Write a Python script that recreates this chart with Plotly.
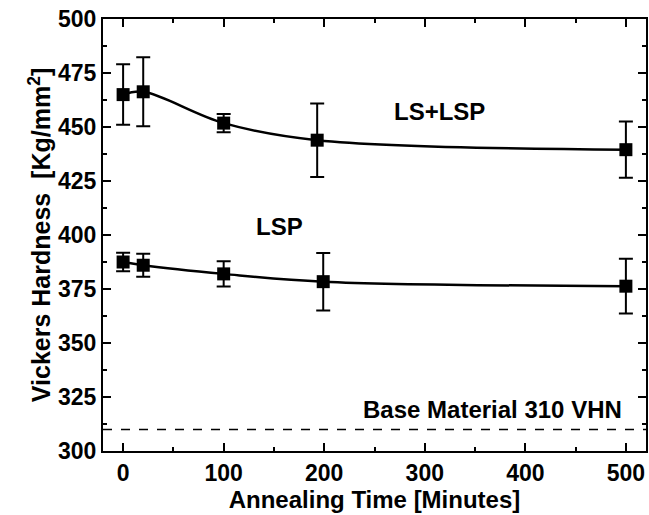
import plotly.graph_objects as go

# Data
time_ls_lsp = [0, 20, 100, 193, 500]
hv_ls_lsp = [465.0, 466.3, 451.8, 443.9, 439.5]
err_ls_lsp = [14.0, 16.0, 4.2, 17.0, 13.0]

time_lsp = [0, 20, 100, 199, 500]
hv_lsp = [387.5, 386.0, 382.0, 378.4, 376.3]
err_lsp = [4.3, 5.3, 5.8, 13.3, 12.7]

base_hv = 310

FONT = "Liberation Sans"

fig = go.Figure()
for xs, ys, es in [(time_ls_lsp, hv_ls_lsp, err_ls_lsp), (time_lsp, hv_lsp, err_lsp)]:
    fig.add_trace(go.Scatter(
        x=xs, y=ys, mode="lines+markers",
        line=dict(color="black", width=2.5, shape="spline", smoothing=1.0),
        marker=dict(symbol="square", size=13, color="black"),
        error_y=dict(type="data", array=es, color="black", thickness=2, width=7),
        showlegend=False,
    ))

fig.add_shape(type="line", xref="paper", x0=0, x1=1, yref="y", y0=base_hv, y1=base_hv,
              line=dict(color="black", width=1.5, dash="dash"))

ann_font = dict(family=FONT, size=24, color="black", weight="bold")
fig.add_annotation(x=315, y=457, text="LS+LSP", showarrow=False, font=ann_font)
fig.add_annotation(x=156, y=404, text="LSP", showarrow=False, font=ann_font)
fig.add_annotation(x=498, y=319, text="Base Material 310 VHN", showarrow=False,
                   xanchor="right", font=ann_font)

axis_common = dict(
    showline=True, linecolor="black", linewidth=2, mirror="allticks",
    ticks="inside", ticklen=8, tickwidth=2, tickcolor="black",
    showgrid=False, zeroline=False,
    tickfont=dict(family=FONT, size=23, color="black", weight="bold"),
)

fig.update_xaxes(
    range=[-20, 520], tickmode="linear", tick0=0, dtick=100,
    minor=dict(ticks="inside", ticklen=4, tickwidth=2, tickcolor="black", dtick=50, tick0=0),
    title=dict(text="Annealing Time [Minutes]", standoff=0,
               font=dict(family=FONT, size=24, color="black", weight="bold")),
    **axis_common,
)
fig.update_yaxes(
    range=[300, 500], tickmode="linear", tick0=300, dtick=25,
    minor=dict(ticks="inside", ticklen=4, tickwidth=2, tickcolor="black", dtick=12.5, tick0=300),
    title=dict(text="Vickers Hardness  [Kg/mm<sup>2</sup>]", standoff=0,
               font=dict(family=FONT, size=25, color="black", weight="bold")),
    **axis_common,
)

fig.update_layout(
    width=649, height=515,
    margin=dict(l=103, r=1, t=19, b=64),
    plot_bgcolor="white", paper_bgcolor="white",
)

fig.write_html("out.html")
